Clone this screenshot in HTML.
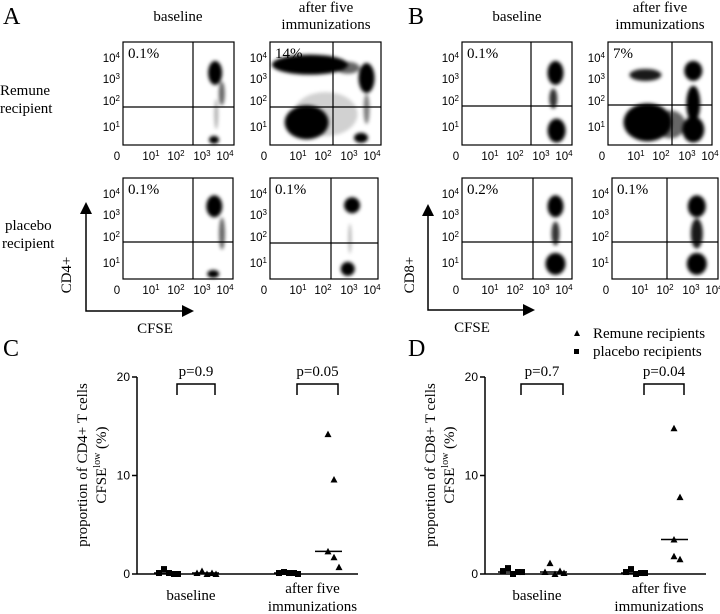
<!DOCTYPE html>
<html><head><meta charset="utf-8"><style>
html,body{margin:0;padding:0;background:#fff;}
svg{display:block;font-family:"Liberation Serif",serif;}
.tk{font-family:"Liberation Sans",sans-serif;font-size:11.5px;}
</style></head><body>
<svg id="fig" width="720" height="614" viewBox="0 0 720 614" xmlns="http://www.w3.org/2000/svg">
<defs><filter id="bl" x="-50%" y="-50%" width="200%" height="200%"><feGaussianBlur stdDeviation="1.8"/></filter></defs>
<g font-size="24">
<text x="3" y="24">A</text><text x="408" y="24">B</text>
<text x="3" y="356">C</text><text x="408" y="356">D</text>
</g>
<g font-size="15" text-anchor="middle">
<text x="178" y="21">baseline</text>
<text x="326" y="12">after five</text><text x="326" y="29">immunizations</text>
<text x="517" y="21">baseline</text>
<text x="660" y="12">after five</text><text x="660" y="29">immunizations</text>
</g>
<g font-size="15">
<text x="0" y="95">Remune</text><text x="0" y="113">recipient</text>
<text x="5" y="230">placebo</text><text x="2" y="248">recipient</text>
</g>
<g id="flow"></g>
<g stroke="#000" stroke-width="1.5" fill="none">
<path d="M86 212 V311 H183"/></g>
<path d="M80 214 L86 202 L92 214Z M182 305 L194 311 L182 317Z" fill="#000"/>
<text x="71" y="275" font-size="15" transform="rotate(-90 71 275)" text-anchor="middle">CD4+</text>
<text x="155" y="333" font-size="15" text-anchor="middle">CFSE</text>
<g stroke="#000" stroke-width="1.5" fill="none">
<path d="M428 214 V310 H524"/></g>
<path d="M422 216 L428 204 L434 216Z M523 304 L535 310 L523 316Z" fill="#000"/>
<text x="414" y="275" font-size="15" transform="rotate(-90 414 275)" text-anchor="middle">CD8+</text>
<text x="472" y="332" font-size="15" text-anchor="middle">CFSE</text>
<g font-size="15">
<path d="M574 336 L577 330 L580 336Z" fill="#000"/><text x="593" y="338">Remune recipients</text>
<rect x="574" y="349" width="5" height="5" fill="#000"/><text x="593" y="356">placebo recipients</text>
</g>
<g id="scat"></g>
</svg>
<script>
// ---- scatter data (C and D) ----
const catLabels = ["baseline", "after five|immunizations"];
const cBasePlacebo = [0.1, 0.5, 0.1, 0.0, 0.0];
const cBaseRemune = [0.1, 0.3, 0.0, 0.1, 0.0];
const cAfterPlacebo = [0.1, 0.2, 0.1, 0.1, 0.0];
const cAfterRemune = [14.2, 9.6, 2.3, 1.7, 0.7];
const dBasePlacebo = [0.3, 0.6, 0.0, 0.2, 0.2];
const dBaseRemune = [0.2, 1.1, 0.0, 0.3, 0.1];
const dAfterPlacebo = [0.2, 0.5, 0.0, 0.1, 0.1];
const dAfterRemune = [14.8, 7.8, 3.5, 1.5, 1.8];
const cPvals = ["p=0.9", "p=0.05"];
const dPvals = ["p=0.7", "p=0.04"];
const yTicks = [0, 10, 20];

const NS = "http://www.w3.org/2000/svg";
function mk(tag, attrs, parent){const e=document.createElementNS(NS,tag);for(const k in attrs)e.setAttribute(k,attrs[k]);parent.appendChild(e);return e;}
function median(a){const s=[...a].sort((x,y)=>x-y);return s[Math.floor(s.length/2)];}

function scatterPanel(g, ax, axEnd, label1, groups, pvals, xpos){
  const y0=574, y20=377;
  const y = v => y0 - (v/20)*(y0-y20);
  mk('line',{x1:ax,y1:y20,x2:ax,y2:y0,stroke:'#000','stroke-width':1.5},g);
  mk('line',{x1:ax,y1:y0,x2:axEnd,y2:y0,stroke:'#000','stroke-width':1.5},g);
  yTicks.forEach(t=>{
    mk('line',{x1:ax-5,y1:y(t),x2:ax,y2:y(t),stroke:'#000','stroke-width':1.5},g);
    const tx=mk('text',{x:ax-7,y:y(t)+4,'text-anchor':'end','font-size':12,'font-family':'Liberation Sans, sans-serif'},g);
    tx.textContent=t;
    
    
  });
  groups.forEach((vals,gi)=>{
    const cx=xpos[gi]; const isTri = gi%2===1;
    const offs=[-8,-3,2,7,11];
    const m=median(vals);
    const ml=mk('line',{x1:cx-13,y1:y(m),x2:cx+14,y2:y(m),stroke:'#000','stroke-width':1.5},g);
    
    
    vals.forEach((v,i)=>{
      const px = (isTri && v>1.2) ? cx + (i%2?6:0) : cx+offs[i];
      const py=y(v); let e;
      if(isTri) e=mk('path',{d:`M${px-3.5} ${py+3} L${px} ${py-3.5} L${px+3.5} ${py+3}Z`,fill:'#000'},g);
      else e=mk('rect',{x:px-3,y:py-3,width:6,height:6,fill:'#000'},g);
      
      
    });
  });
  for(let k=0;k<2;k++){
    const a=xpos[2*k]+10, b=xpos[2*k+1]+10;
    mk('path',{d:`M${a} 395 V384 H${b} V395`,fill:'none',stroke:'#000','stroke-width':1.5},g);
    const pt=mk('text',{x:(a+b)/2,y:376,'text-anchor':'middle','font-size':15},g);
    pt.textContent=pvals[k];
    
    
  }
  const c1=(xpos[0]+xpos[1])/2+5, c2=(xpos[2]+xpos[3])/2+5;
  const t1=mk('text',{x:c1,y:600,'text-anchor':'middle','font-size':15},g); t1.textContent=catLabels[0];
  
  
  const parts=catLabels[1].split('|');
  const t2=mk('text',{x:c2,y:593,'text-anchor':'middle','font-size':15},g); t2.textContent=parts[0];
  
  
  const t3=mk('text',{x:c2,y:611,'text-anchor':'middle','font-size':15},g); t3.textContent=parts[1];
  const tx=ax-50, ty=465;
  const yt=mk('text',{x:tx,y:ty,'text-anchor':'middle','font-size':15,transform:`rotate(-90 ${tx} ${ty})`},g);
  yt.textContent=label1;
  
  
  const yt2=mk('text',{x:tx+19,y:ty,'text-anchor':'middle','font-size':15,transform:`rotate(-90 ${tx+19} ${ty})`},g);
  yt2.innerHTML='CFSE<tspan font-size="10" dy="-6">low</tspan><tspan dy="6"> (%)</tspan>';
}
const scat=document.getElementById('scat');
const gC=mk('g',{},scat);


scatterPanel(gC,137,358,'proportion of CD4+ T cells',[cBasePlacebo,cBaseRemune,cAfterPlacebo,cAfterRemune],cPvals,[167,205,287,328]);
const gD=mk('g',{},scat);


scatterPanel(gD,485,706,'proportion of CD8+ T cells',[dBasePlacebo,dBaseRemune,dAfterPlacebo,dAfterRemune],dPvals,[511,553,634,674]);

// ---- flow cytometry plots ----
const flowLabels = ["0.1%", "14%", "0.1%", "7%", "0.1%", "0.1%", "0.2%", "0.1%"];
const flowBoxes=[[123,42,111,103,193,107],[270,42,111,103,333,107],[462,42,110,103,531,106],[608,42,104,103,672,105],
 [123,178,110,101,193,242],[270,178,108,101,331,243],[462,178,110,101,533,242],[612,178,106,101,667,242]];
const blobs=[
 [[.83,.30,7,12,1],[.89,.50,3,12,.6],[.82,.95,5,4,1],[.84,.7,2,15,.3]],
 [[.36,.22,38,10,1],[.87,.35,8,15,1],[.33,.78,22,17,1],[.82,.93,7,5,1],[.87,.65,3,15,.5],[.5,.7,32,22,.18],[.7,.25,12,6,.6]],
 [[.85,.30,8,12,1],[.83,.55,4,10,.8],[.86,.86,9,12,1]],
 [[.36,.32,16,6,.9],[.38,.78,24,19,1],[.82,.28,9,10,1],[.82,.6,7,18,1],[.82,.85,11,13,1],[.6,.8,15,14,.6]],
 [[.83,.28,8,11,1],[.90,.55,3,16,.6],[.82,.95,6,4,1]],
 [[.76,.27,8,8,1],[.72,.9,7,7,1],[.74,.6,1.5,15,.3]],
 [[.85,.28,8,11,1],[.85,.55,4,12,.8],[.85,.85,10,11,1]],
 [[.80,.28,9,11,1],[.80,.55,6,15,.9],[.80,.85,10,11,1]]];
const flow=document.getElementById('flow');
flowBoxes.forEach((b,i)=>{
  const [x,y,w,h,vx,hy]=b;
  const g=mk('g',{},flow);
  
  
  const bg=mk('g',{filter:'url(#bl)'},g);
  blobs[i].forEach(o=>mk('ellipse',{cx:x+o[0]*w,cy:y+o[1]*h,rx:o[2],ry:o[3],fill:'#000','fill-opacity':o[4]},bg));
  mk('rect',{x:x,y:y,width:w,height:h,fill:'none',stroke:'#000','stroke-width':1.2},g);
  mk('line',{x1:vx,y1:y,x2:vx,y2:y+h,stroke:'#000','stroke-width':1.2},g);
  mk('line',{x1:x,y1:hy,x2:x+w,y2:hy,stroke:'#000','stroke-width':1.2},g);
  const t=mk('text',{x:x+5,y:y+16,'font-size':15},g); t.textContent=flowLabels[i];
  
  
  const yl=[[16,'4'],[37,'3'],[59,'2'],[85,'1']];
  yl.forEach(l=>{const tt=mk('text',{x:x-3,y:y+l[0]+4,'text-anchor':'end',class:'tk'},g);tt.innerHTML='10<tspan font-size="8" dy="-4">'+l[1]+'</tspan>';});
  const xl=[[-6,'0'],[28,'1'],[53,'2'],[79,'3'],[102,'4']];
  xl.forEach(l=>{const tt=mk('text',{x:x+l[0],y:y+h+15,'text-anchor':'middle',class:'tk'},g);
    tt.innerHTML = l[1]==='0' ? '0' : '10<tspan font-size="8" dy="-4">'+l[1]+'</tspan>';});
});
</script>
</body></html>
